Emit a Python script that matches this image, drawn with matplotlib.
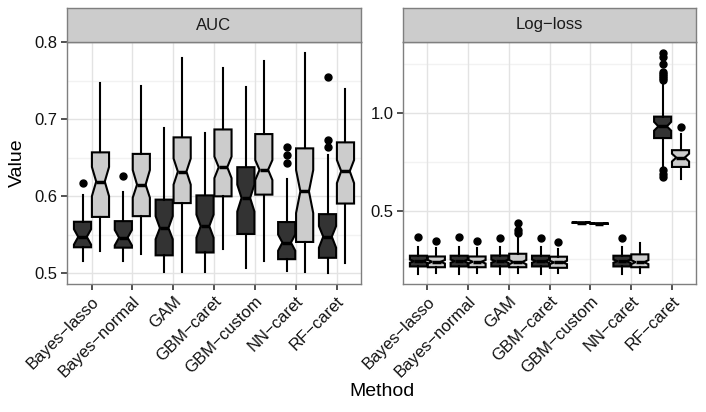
import numpy as np
import matplotlib.pyplot as plt

plt.rcParams['font.family'] = ['Liberation Sans', 'DejaVu Sans']

methods = ["Bayes−lasso", "Bayes−normal", "GAM", "GBM−caret", "GBM−custom", "NN−caret", "RF−caret"]

# five-number summaries: (whisker low, q1, median, q3, whisker high)
auc_dark = [(0.515, 0.5335, 0.547, 0.5667, 0.601),
            (0.515, 0.533, 0.546, 0.5675, 0.605),
            (0.501, 0.523, 0.5585, 0.5955, 0.6885),
            (0.501, 0.5267, 0.561, 0.601, 0.6816),
            (0.5064, 0.5508, 0.5977, 0.6377, 0.7419),
            (0.503, 0.518, 0.5396, 0.5663, 0.6226),
            (0.500, 0.5198, 0.5473, 0.5766, 0.6536)]
auc_dark_notch = [(0.537, 0.557), (0.536, 0.556), (0.544, 0.574), (0.546, 0.576),
                  (0.580, 0.615), (0.529, 0.550), (0.533, 0.561)]
auc_dark_out = [[0.617], [0.626], [], [], [], [0.6635, 0.6536, 0.6437], [0.7548, 0.673, 0.6635]]

auc_light = [(0.528, 0.573, 0.619, 0.657, 0.7475),
             (0.525, 0.574, 0.615, 0.655, 0.744),
             (0.501, 0.591, 0.632, 0.6765, 0.780),
             (0.531, 0.5998, 0.6377, 0.6868, 0.7664),
             (0.5159, 0.602, 0.6343, 0.6808, 0.7763),
             (0.5017, 0.5404, 0.6063, 0.6622, 0.7862),
             (0.5129, 0.5904, 0.6325, 0.670, 0.7393)]
auc_light_notch = [(0.600, 0.638), (0.598, 0.634), (0.615, 0.649), (0.6235, 0.6515),
                   (0.621, 0.647), (0.578, 0.634), (0.617, 0.647)]
auc_light_out = [[], [], [], [], [], [], []]

ll_dark = [(0.176, 0.214, 0.241, 0.269, 0.313),
           (0.176, 0.214, 0.241, 0.269, 0.313),
           (0.176, 0.214, 0.241, 0.270, 0.313),
           (0.176, 0.214, 0.241, 0.269, 0.313),
           (0.435, 0.437, 0.438, 0.440, 0.442),
           (0.173, 0.214, 0.241, 0.269, 0.313),
           (0.724, 0.872, 0.932, 0.982, 1.152)]
ll_dark_notch = [(0.233, 0.249), (0.233, 0.249), (0.233, 0.249), (0.233, 0.249),
                 (0.4375, 0.4385), (0.233, 0.249), (0.910, 0.955)]
ll_dark_out = [[0.364], [0.364], [0.362], [0.362], [], [0.361],
               [0.707, 0.690, 0.673, 1.17, 1.18, 1.19, 1.20, 1.21, 1.25, 1.29, 1.31]]

ll_light = [(0.180, 0.210, 0.238, 0.265, 0.306),
            (0.180, 0.210, 0.238, 0.265, 0.306),
            (0.180, 0.210, 0.236, 0.279, 0.372),
            (0.180, 0.207, 0.2345, 0.264, 0.305),
            (0.431, 0.432, 0.433, 0.435, 0.436),
            (0.180, 0.210, 0.236, 0.276, 0.334),
            (0.664, 0.724, 0.772, 0.810, 0.895)]
ll_light_notch = [(0.229, 0.247), (0.229, 0.247), (0.225, 0.247), (0.226, 0.243),
                  (0.4325, 0.4335), (0.226, 0.246), (0.752, 0.792)]
ll_light_out = [[0.344], [0.344], [0.385, 0.399, 0.436], [0.341], [], [], [0.929]]

panels = [("AUC", auc_dark, auc_dark_notch, auc_dark_out, auc_light, auc_light_notch, auc_light_out,
           (0.4857, 0.801), [0.5, 0.6, 0.7, 0.8], [0.55, 0.65, 0.75], ["0.5", "0.6", "0.7", "0.8"]),
          ("Log−loss", ll_dark, ll_dark_notch, ll_dark_out, ll_light, ll_light_notch, ll_light_out,
           (0.124, 1.366), [0.5, 1.0], [0.25, 0.75, 1.25], ["0.5", "1.0"])]


def make_stats(summ, notch, out):
    stats = []
    for (lo, q1, med, q3, hi), (clo, chi), fl in zip(summ, notch, out):
        stats.append(dict(whislo=lo, q1=q1, med=med, q3=q3, whishi=hi,
                          cilo=clo, cihi=chi, fliers=fl))
    return stats


fig = plt.figure(figsize=(7.06, 4.12), dpi=100)
W, H = 706, 412
lefts = [67, 403]
widths = [294, 293]
ptop, pbot, stop = 41.7, 284, 8.3

pos = np.arange(1, len(methods) + 1)

for i, (title, d, dn, do, l, ln, lo_, ylim, ticks, minor, tlabels) in enumerate(panels):
    ax = fig.add_axes([lefts[i] / W, 1 - pbot / H, widths[i] / W, (pbot - ptop) / H])
    for y in minor:
        ax.axhline(y, color="#f2f2f2", lw=1.0, zorder=0)
    for y in ticks:
        ax.axhline(y, color="#e3e3e3", lw=1.0, zorder=0)
    for x in pos:
        ax.axvline(x, color="#e3e3e3", lw=1.0, zorder=0)

    for summ, nt, fl, col, off in [(d, dn, do, "#333333", -0.22), (l, ln, lo_, "#cccccc", 0.22)]:
        ax.bxp(make_stats(summ, nt, fl), positions=pos + off, widths=0.42,
               patch_artist=True, shownotches=True, showcaps=False,
               boxprops=dict(facecolor=col, edgecolor="black", lw=1.5),
               medianprops=dict(color="black", lw=2.5),
               whiskerprops=dict(color="black", lw=1.5),
               flierprops=dict(marker="o", markerfacecolor="black", markeredgecolor="black",
                               markersize=5, linestyle="none"),
               manage_ticks=False)

    ax.set_xlim(0.4, 7.6)
    ax.set_ylim(*ylim)
    ax.set_yticks(ticks)
    ax.set_yticklabels(tlabels)
    ax.set_xticks(pos)
    ax.set_xticklabels(methods, rotation=45, ha="right", va="top", rotation_mode="anchor")
    ax.tick_params(axis="both", direction="out", length=4, width=1.2, color="#333333",
                   labelsize=12, labelcolor="#111111", pad=3)
    for s in ax.spines.values():
        s.set_color("#7f7f7f")
        s.set_linewidth(1)

    sax = fig.add_axes([lefts[i] / W, 1 - ptop / H, widths[i] / W, (ptop - stop) / H])
    sax.set_facecolor("#cccccc")
    sax.set_xticks([])
    sax.set_yticks([])
    for s in sax.spines.values():
        s.set_color("#7f7f7f")
        s.set_linewidth(1)
    sax.text(0.5, 0.5, title, ha="center", va="center", fontsize=12, color="#1a1a1a",
             transform=sax.transAxes)

fig.text(382 / W, 1 - 391 / H, "Method", ha="center", va="center", fontsize=14)
fig.text(17 / W, 1 - 163 / H, "Value", ha="center", va="center", fontsize=14, rotation=90)

fig.savefig("out.png", dpi=100)
